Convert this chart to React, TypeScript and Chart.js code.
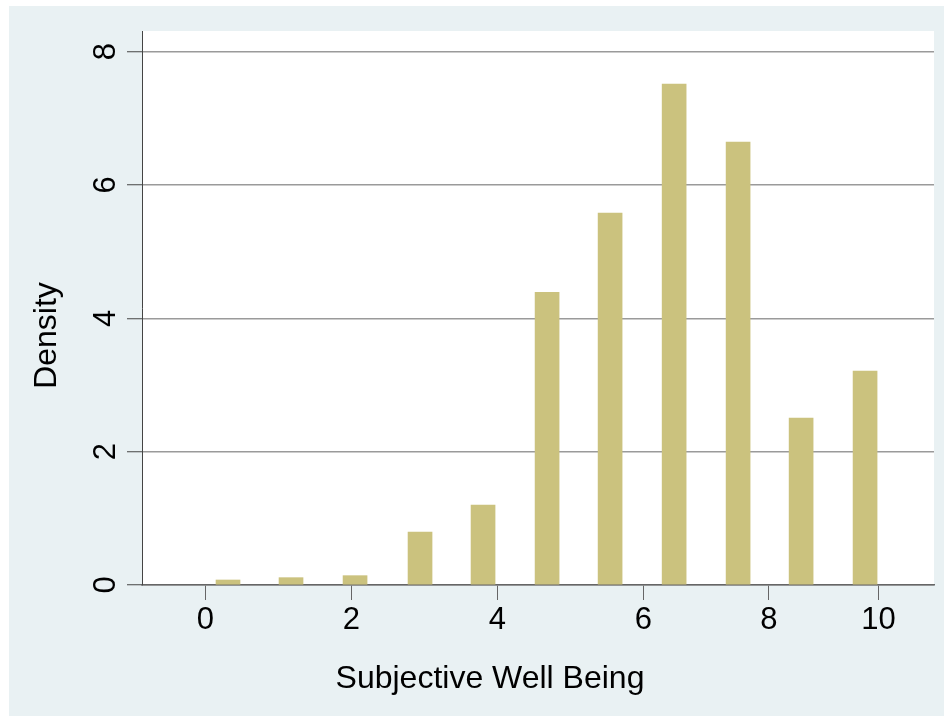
import React, { useEffect, useRef } from "react";
import { Chart, registerables } from "chart.js";

Chart.register(...registerables);

// Bar centres on the drawn x scale (units of the 0/2/4/6 ticks)
const binCenters = [0.311, 1.174, 2.051, 2.941, 3.804, 4.681, 5.544, 6.421, 7.297, 8.16, 9.036];
// Density of each bar
const densities = [0.075, 0.11, 0.14, 0.795, 1.2, 4.39, 5.58, 7.515, 6.645, 2.505, 3.21];
// Tick positions and their printed labels on the x axis
const xTickValues = [0, 2, 4, 6, 7.72, 9.22];
const xTickLabels = ["0", "2", "4", "6", "8", "10"];
// y axis ticks
const yTickValues = [0, 2, 4, 6, 8];
const yTickLabels = ["0", "2", "4", "6", "8"];

const xTitle = "Subjective Well Being";
const yTitle = "Density";

const FONT = "'Liberation Sans', Arial, Helvetica, sans-serif";
const BG = "#e9f1f3";
const BAR = "#cbc27e";

export default function App() {
  const ref = useRef<HTMLCanvasElement | null>(null);

  useEffect(() => {
    if (!ref.current) return;
    const bgPlugin = {
      id: "bgPlugin",
      beforeDraw(chart: any) {
        const { ctx, chartArea } = chart;
        ctx.save();
        ctx.fillStyle = BG;
        ctx.fillRect(0, 0, chart.width, chart.height);
        ctx.fillStyle = "#ffffff";
        ctx.fillRect(chartArea.left, chartArea.top, chartArea.right - chartArea.left, chartArea.bottom - chartArea.top);
        ctx.restore();
      },
      afterDraw(chart: any) {
        const { ctx } = chart;
        ctx.save();
        ctx.fillStyle = "#000";
        ctx.font = `32px ${FONT}`;
        ctx.textAlign = "center";
        ctx.textBaseline = "alphabetic";
        ctx.fillText(xTitle, 481, 682);
        ctx.translate(47, 329.5);
        ctx.rotate(-Math.PI / 2);
        ctx.fillText(yTitle, 0, 0);
        ctx.restore();
      },
    };

    const chart = new Chart(ref.current, {
      type: "bar",
      data: {
        datasets: [
          {
            data: binCenters.map((x, i) => ({ x, y: densities[i] })),
            backgroundColor: BAR,
            borderWidth: 0,
            barThickness: 24,
          },
        ],
      },
      options: {
        animation: false,
        responsive: false,
        maintainAspectRatio: false,
        layout: { padding: { left: 0, top: 25, right: 10, bottom: 0 } },
        plugins: {
          legend: { display: false },
          tooltip: { enabled: false },
          title: { display: false },
        },
        scales: {
          x: {
            type: "linear",
            min: -0.867,
            max: 9.98,
            offset: false,
            afterBuildTicks(scale: any) {
              scale.ticks = xTickValues.map((v) => ({ value: v }));
            },
            afterFit(scale: any) {
              scale.height = 131;
              scale.paddingLeft = 0;
              scale.paddingRight = 0;
            },
            ticks: {
              callback: (_v: any, i: number) => xTickLabels[i],
              font: { family: FONT, size: 31 },
              color: "#000",
              padding: 2,
              maxRotation: 0,
              minRotation: 0,
              autoSkip: false,
            },
            grid: {
              offset: false,
              drawOnChartArea: false,
              drawTicks: true,
              tickLength: 15,
              tickColor: "#666",
              tickWidth: 1,
            },
            border: { display: true, color: "#666", width: 1.5 },
          },
          y: {
            type: "linear",
            min: 0,
            max: 8.31,
            afterBuildTicks(scale: any) {
              scale.ticks = yTickValues.map((v) => ({ value: v }));
            },
            afterFit(scale: any) {
              scale.width = 133;
              scale.paddingTop = 0;
              scale.paddingBottom = 0;
            },
            ticks: {
              callback: (_v: any, i: number) => yTickLabels[i],
              font: { family: FONT, size: 31 },
              color: "#000",
              padding: 12,
              minRotation: 90,
              maxRotation: 90,
              crossAlign: "center",
              autoSkip: false,
            },
            grid: {
              color: "#9a9a9a",
              lineWidth: 1.5,
              drawTicks: true,
              tickLength: 15,
              tickColor: "#444",
              tickWidth: 1,
            },
            border: { display: true, color: "#444", width: 1 },
          },
        },
      },
      plugins: [bgPlugin],
    });
    return () => chart.destroy();
  }, []);

  return (
    <div style={{ position: "absolute", left: 0, top: 0, width: 944, height: 716, background: "#ffffff", overflow: "hidden" }}>
      <canvas
        ref={ref}
        width={935}
        height={710}
        style={{ position: "absolute", left: 9, top: 6, width: 935, height: 710 }}
      />
    </div>
  );
}
